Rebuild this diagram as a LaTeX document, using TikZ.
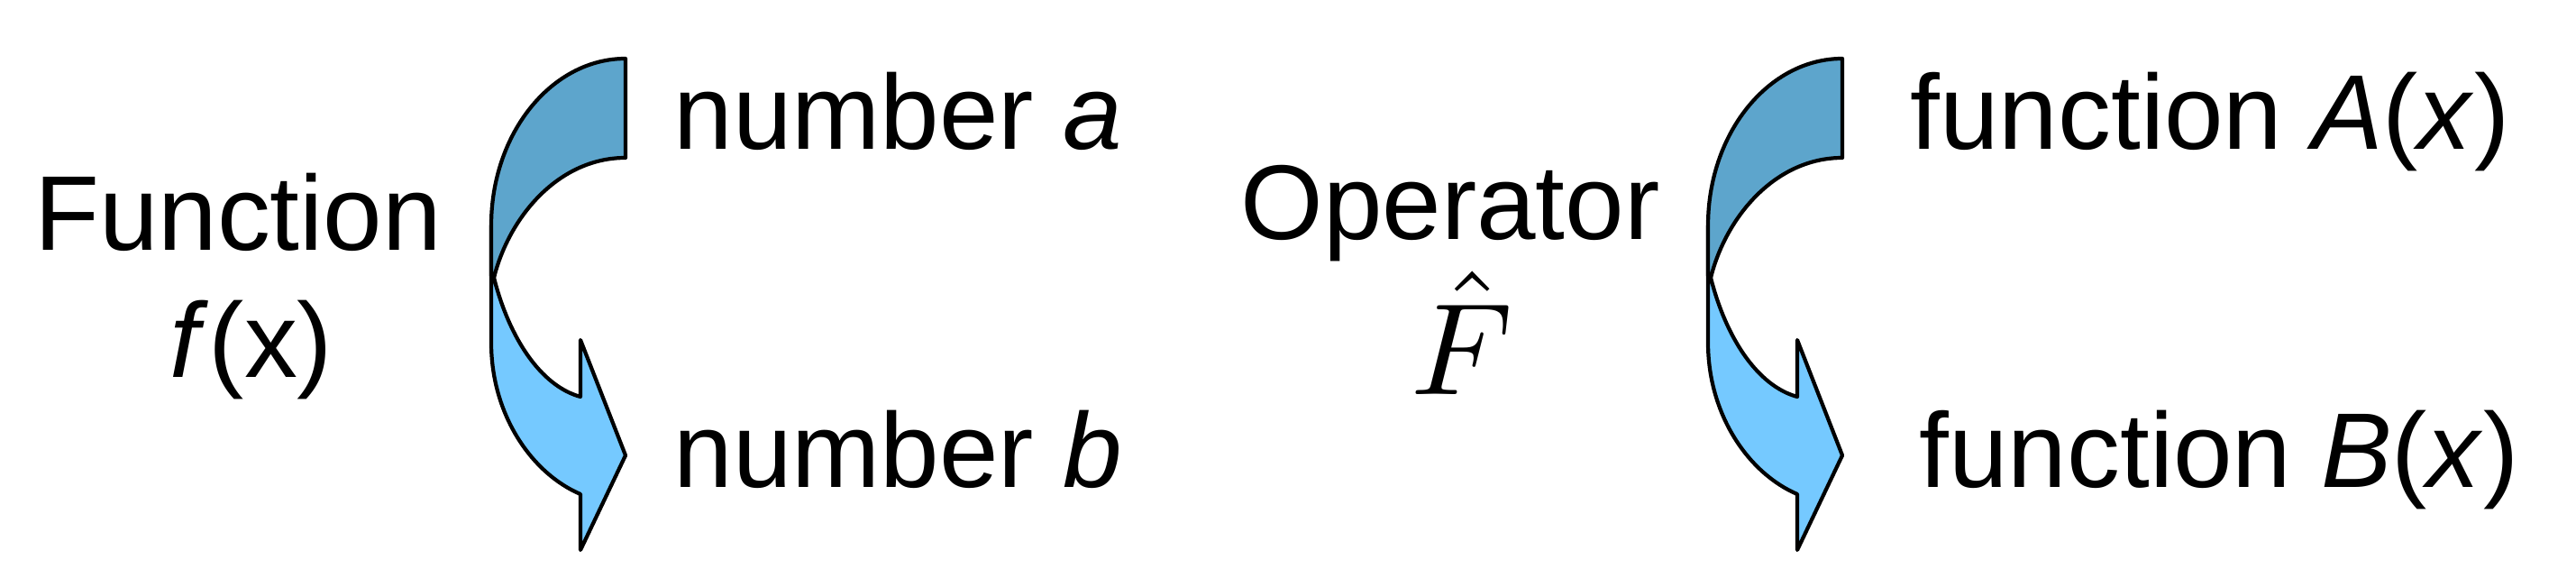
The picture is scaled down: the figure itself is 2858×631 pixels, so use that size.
\documentclass[tikz,border=0pt]{standalone}
\usepackage{fontspec}
\setmainfont{Liberation Sans}
\definecolor{bandtop}{HTML}{5DA5CC}
\definecolor{bandlow}{HTML}{75C9FF}
\tikzset{
	band/.style={draw=black,line width=1.2pt,line join=round},
	lbl/.style={inner sep=0pt,font=\fontsize{33.5}{40}\selectfont},
}
\begin{document}
\begin{tikzpicture}[x=0.01cm,y=-0.01cm,line join=round,line cap=round]
	\useasboundingbox (0,0) rectangle (2858,631);
	% curved arrows
	\foreach \dx in {0,1350}{
		\begin{scope}[shift={(\dx,0)}]
			\coordinate (T) at (694,65);
			\coordinate (Ti) at (694,175);
			\coordinate (L) at (545,250);
			\coordinate (X) at (548,308);
			\coordinate (Lo) at (545,380);
			\coordinate (N1) at (644,548);
			\coordinate (B) at (644,610);
			\coordinate (P) at (694,505);
			\coordinate (H) at (644,377);
			\coordinate (N2) at (644,440);
			\draw[band,fill=bandlow] (L)--(Lo) .. controls (545,460) and (590,525) .. (N1)
				--(B)--(P)--(H)--(N2) .. controls (600,428) and (565,375) .. (X)--cycle;
			\draw[band,fill=bandtop] (T) .. controls (612,65) and (545,148) .. (L)--(545,306)--(X)
				.. controls (565,240) and (620,175) .. (Ti)--cycle;
		\end{scope}
	}
	% texts
	\node[lbl,anchor=base] (func) at (264,278) {Function};
	\node[lbl,anchor=base] (fx) at (279,419) {\textit{f}(x)};
	\node[lbl,anchor=base west] (numa) at (747,166) {number \textit{a}};
	\node[lbl,anchor=base west] (numb) at (747,541) {number \textit{b}};
	\node[lbl,anchor=base] (oper) at (1609,266) {Operator};
	\node[inner sep=0pt,anchor=base] (Fhat) at (1622,438) {\scalebox{4.12}{$\hat{F}$}};
	\node[lbl,anchor=base west] (funA) at (2119,166) {function \textit{A}(\textit{x})};
	\node[lbl,anchor=base west] (funB) at (2129,541) {function \textit{B}(\textit{x})};
\end{tikzpicture}
\end{document}
